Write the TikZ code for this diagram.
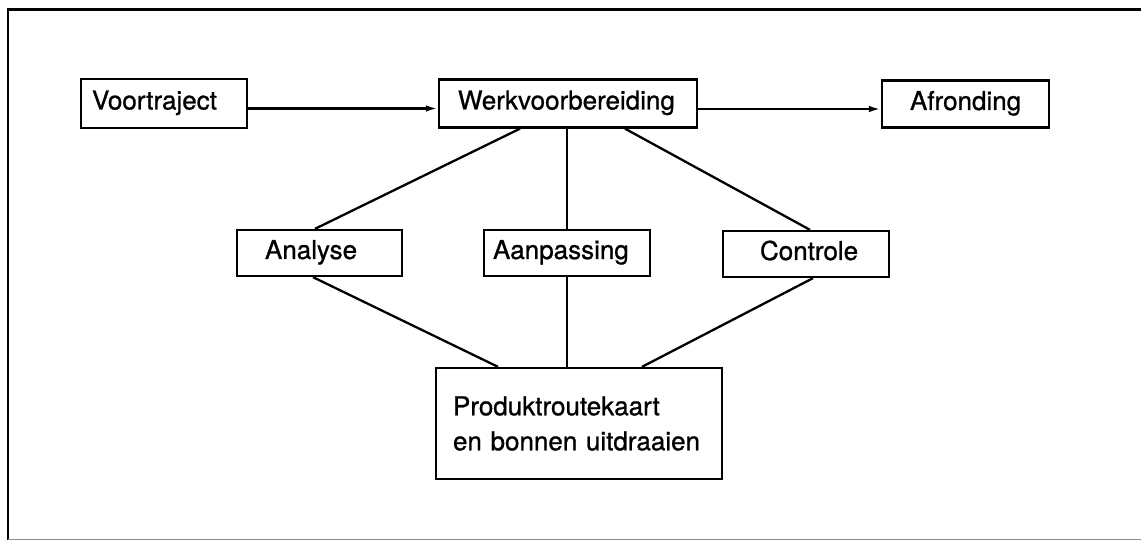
\documentclass[tikz,border=0pt]{standalone}
\usepackage{fontspec}
\setmainfont{TeX Gyre Heros}[FakeBold=0.9]
\usetikzlibrary{arrows.meta}

\begin{document}
\begin{tikzpicture}[x=1pt,y=-1pt,
  font=\fontsize{26}{35}\selectfont,
  box/.style={draw, line width=2.3pt, inner xsep=0pt, inner ysep=0pt,
    align=left, text height=19pt, text depth=7pt},
  tallbox/.style={draw, line width=2.3pt, inner xsep=0pt, inner ysep=0pt,
    align=left},
  link/.style={line width=2.3pt},
  flow/.style={line width=2.3pt, -{Latex[length=12pt,width=6.5pt]}},
  frame/.style={line width=2.8pt}
]
\useasboundingbox (0,0) rectangle (1141,540);

% outer frame (open on the right)
\draw[frame] (1141,9.5) -- (8,9.5) -- (8,540);
\draw[line width=2pt, black!45] (8,539.6) -- (1141,539.6);

% top row: phases
\node[box, text width=166pt, minimum height=49pt] (voor) at (164,103.5)
  {\hspace*{11pt}Voortraject};
\node[box, text width=258pt, minimum height=48pt] (werk) at (568,103.5)
  {\hspace*{19pt}Werkvoorbereiding};
\node[box, text width=167pt, minimum height=47pt] (afr) at (965.5,104)
  {\hspace*{28pt}Afronding};

% middle row: sub-activities
\node[box, text width=165pt, minimum height=46pt] (ana) at (319.5,253)
  {\hspace*{28pt}Analyse};
\node[box, text width=166pt, minimum height=46pt] (aan) at (567,253)
  {\hspace*{9pt}Aanpassing};
\node[box, text width=166pt, minimum height=46pt] (con) at (806,254)
  {\hspace*{37pt}Controle};

% bottom: output
\node[tallbox, text width=286pt, minimum height=111pt] (prod) at (579,423.5)
  {\hspace*{17pt}Produktroutekaart\\\hspace*{17pt}en bonnen uitdraaien};

% sequence arrows
\draw[flow] ([yshift=-5pt]voor.east) -- ([yshift=-5pt]werk.west);
\draw[flow] ([yshift=-5.5pt]werk.east) -- ([yshift=-5pt]afr.west);

% work preparation to its sub-activities
\draw[link] ([xshift=-48pt]werk.south) -- ([xshift=-4.5pt]ana.north);
\draw[link] ([xshift=-1pt]werk.south) -- (aan.north);
\draw[link] ([xshift=57pt]werk.south) -- ([xshift=4pt]con.north);

% sub-activities to the output
\draw[link] ([xshift=-6.5pt]ana.south) -- ([xshift=-81pt]prod.north);
\draw[link] (aan.south) -- ([xshift=-12pt]prod.north);
\draw[link] ([xshift=7pt]con.south) -- ([xshift=63pt]prod.north);
\end{tikzpicture}
\end{document}
